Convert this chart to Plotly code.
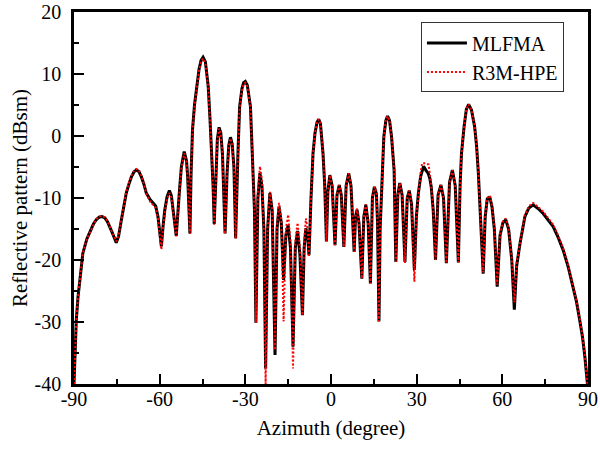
import plotly.graph_objects as go

# MLFMA (black solid)
mlfma_x = [-90, -89.6, -89.2, -88.6, -88.0, -86.9, -85.5, -84.5, -83.2, -82.2, -81.2, -80.2, -79.2, -78.3, -77.5,
           -76.5, -75.2, -74.4, -73.4, -72.5, -71.7, -70.8, -69.9, -69.0, -68.2, -67.3, -66.4, -65.5, -64.7,
           -63.3, -62.2, -61.4, -60.6, -60.2, -59.4, -58.8, -58.2, -57.4, -56.6, -55.9, -55.3, -54.2, -53.1,
           -52.4, -51.4, -50.6, -50.2, -49.8, -49.4, -49.0, -48.5, -47.8, -47.1, -46.2, -45.5, -44.8, -44.0,
           -43.0, -42.4, -41.8, -41.3, -40.9, -40.3, -39.8, -39.2, -38.6, -38.0, -37.1, -36.4, -35.8, -35.2,
           -34.6, -34.0, -33.4, -32.6, -32.0, -31.2, -30.6, -30.0, -29.3, -28.2, -27.3, -26.8, -26.3, -25.6,
           -24.9, -24.2, -23.5, -22.9, -22.2, -21.4, -20.6, -19.6, -18.9, -18.2, -17.4, -16.6, -15.8, -15.0,
           -14.2, -13.3, -12.5, -11.7, -10.9, -10.0, -9.4, -8.8, -8.2, -7.7, -7.0, -6.3, -5.6, -4.9, -4.3,
           -3.7, -2.8, -2.2, -1.6, -1.1, -0.4, 0.4, 1.4, 2.1, 2.9, 3.6, 4.5, 5.3, 6.2, 7.0, 8.1, 8.6, 9.1,
           9.8, 10.8, 11.5, 12.2, 13.0, 13.8, 14.5, 15.2, 15.9, 16.3, 16.8, 17.2, 17.7, 18.5, 19.2, 19.8,
           20.5, 21.2, 22.1, 22.7, 23.4, 24.1, 24.9, 25.9, 26.7, 27.4, 28.2, 29.2, 29.9, 30.6, 31.4, 32.4,
           33.2, 34.0, 34.6, 35.1, 35.8, 36.6, 37.5, 38.5, 39.4, 40.4, 41.5, 42.5, 43.5, 44.6, 45.2, 45.7,
           46.6, 47.4, 48.2, 49.2, 50.3, 51.0, 51.6, 52.1, 53.3, 54.0, 54.7, 55.6, 56.4, 57.2, 58.2, 59.2,
           60.2, 61.2, 62.2, 63.3, 64.2, 65.0, 66.2, 67.9, 69.3, 70.8, 72.5, 74.3, 76.0, 77.8, 79.5, 81.3,
           83.0, 84.8, 86.0, 87.1, 88.1, 88.9, 89.4, 89.8]
mlfma_y = [-40, -34, -29.7, -26, -23.2, -18.9, -16.6, -15.6, -14.2, -13.5, -13.1, -13.0, -13.2, -13.8, -14.6,
           -15.7, -17.2, -16.2, -13.5, -11.2, -9.2, -7.8, -6.6, -5.8, -5.5, -5.7, -6.6, -7.8, -9.2,
           -10.3, -10.8, -11.3, -13.0, -14.6, -17.8, -14.5, -11.9, -9.8, -8.8, -9.6, -11.9, -16.1, -9.0,
           -5.0, -2.5, -4.0, -6.5, -10.0, -15.7, -6.0, 1.0, 5.0, 8.0, 10.8, 12.2, 12.7, 12.0,
           8.0, 3.0, -2.8, -8.0, -14.2, -5.0, -0.5, 1.4, 0.5, -3.0, -15.7, -6.0, -1.5, -0.2,
           -1.3, -5.0, -16.5, -3.0, 4.7, 7.6, 8.6, 8.8, 8.2, 4.7, -5.5, -12.0, -30.1, -10.0,
           -6.0, -8.0, -15.0, -37.5, -15.0, -9.2, -12.0, -35.3, -15.0, -11.4, -14.0, -23.2, -16.0, -14.4,
           -18.0, -34.0, -18.0, -15.3, -19.0, -28.9, -18.0, -14.9, -16.0, -19.2, -10.0, -2.8, 0.5, 2.2, 2.7,
           2.0, -2.8, -8.0, -17.0, -9.0, -6.3, -8.0, -17.6, -9.5, -7.9, -9.5, -17.9, -8.0, -6.0, -8.0, -18.7, -13.0, -11.9,
           -14.0, -23.0, -13.0, -11.1, -14.0, -23.8, -10.0, -8.2, -9.3, -14.0, -29.9, -15.0, -8.2, -0.1, 2.5, 3.2,
           2.5, -0.1, -5.5, -20.3, -9.5, -7.6, -9.5, -20.3, -10.0, -8.8, -11.0, -21.6, -13.0, -9.2, -6.5, -4.9,
           -5.5, -6.0, -6.8, -8.2, -12.0, -20.0, -9.5, -7.9, -10.0, -20.5, -7.5, -5.5, -8.0, -20.4, -8.0, -2.8,
           1.5, 4.3, 5.1, 4.2, 1.5, -1.7, -6.0, -10.9, -22.2, -13.0, -10.2, -9.8, -11.5, -15.0, -24.3, -16.0,
           -14.0, -13.5, -15.0, -20.0, -28.0, -21.0, -17.3, -13.0, -11.6, -11.1, -11.7, -12.5, -13.5, -14.6, -16.3, -18.4,
           -21.0, -24.3, -26.8, -29.7, -32.5, -35.6, -38.0, -40.0]

# R3M-HPE (red dotted)
r3m_x = [-90, -89.6, -89.2, -88.6, -88.0, -86.9, -85.5, -84.5, -83.2, -82.2, -81.2, -80.2, -79.2, -78.3, -77.5,
         -76.5, -75.2, -74.4, -73.4, -72.5, -71.7, -70.8, -69.9, -69.0, -68.2, -67.3, -66.4, -65.5, -64.7,
         -63.3, -62.2, -61.4, -60.6, -60.2, -59.4, -58.8, -58.2, -57.4, -56.6, -55.9, -55.3, -54.2, -53.1,
         -52.4, -51.4, -50.6, -50.2, -49.8, -49.4, -49.0, -48.5, -47.8, -47.1, -46.2, -45.5, -44.8, -44.0,
         -43.0, -42.4, -41.8, -41.3, -40.9, -40.3, -39.8, -39.2, -38.6, -38.0, -37.1, -36.4, -35.8, -35.2,
         -34.6, -34.0, -33.4, -32.6, -32.0, -31.2, -30.6, -30.0, -29.3, -28.2, -27.3, -26.8, -26.3, -25.6,
         -24.9, -24.2, -23.5, -22.9, -22.2, -21.4, -20.6, -19.6, -18.9, -18.2, -17.4, -16.6, -15.8, -15.0,
         -14.2, -13.3, -12.5, -11.7, -10.9, -10.0, -9.4, -8.8, -8.2, -7.7, -7.0, -6.3, -5.6, -4.9, -4.3,
         -3.7, -2.8, -2.2, -1.6, -1.1, -0.4, 0.4, 1.4, 2.1, 2.9, 3.6, 4.5, 5.3, 6.2, 7.0, 8.1, 8.6, 9.1,
         9.8, 10.8, 11.5, 12.2, 13.0, 13.8, 14.5, 15.2, 15.9, 16.3, 16.8, 17.2, 17.7, 18.5, 19.2, 19.8,
         20.5, 21.2, 22.1, 22.7, 23.4, 24.1, 24.9, 25.9, 26.7, 27.4, 28.2, 29.2, 29.9, 30.6, 31.4, 31.9,
         33.2, 34.2, 34.6, 35.1, 35.8, 36.6, 37.5, 38.5, 39.4, 40.4, 41.5, 42.5, 43.5, 44.6, 45.2, 45.7,
         46.6, 47.4, 48.2, 49.2, 50.3, 51.0, 51.6, 52.1, 53.3, 54.0, 54.7, 55.6, 56.4, 57.2, 58.2, 59.2,
         60.2, 61.2, 62.2, 63.3, 64.2, 65.0, 66.2, 67.9, 69.3, 70.8, 72.5, 74.3, 76.0, 77.8, 79.5, 81.3,
         83.0, 84.8, 86.0, 87.1, 88.1, 88.9, 89.4, 89.8]
r3m_y = [-40, -34, -29.7, -26, -23.2, -18.9, -16.6, -15.6, -14.2, -13.4, -13.0, -12.9, -13.1, -13.7, -14.6,
         -15.7, -17.0, -16.0, -13.3, -11.0, -9.0, -7.6, -6.4, -5.6, -5.3, -5.5, -6.4, -7.7, -9.3,
         -10.6, -11.1, -11.6, -13.3, -15.0, -18.3, -14.8, -12.2, -10.1, -9.2, -9.9, -12.1, -16.2, -9.2,
         -5.2, -2.8, -4.2, -6.7, -10.2, -15.8, -6.2, 0.8, 4.8, 7.8, 10.6, 12.0, 12.5, 11.8,
         7.8, 2.8, -3.0, -8.2, -14.3, -5.2, -0.7, 1.2, 0.3, -3.2, -15.8, -6.2, -1.7, -0.4,
         -1.5, -5.2, -16.6, -3.2, 4.5, 7.4, 8.4, 8.6, 8.0, 4.5, -5.7, -12.2, -30.1, -9.0,
         -4.9, -7.0, -15.0, -40.0, -15.0, -9.0, -12.0, -34.5, -14.5, -10.8, -13.5, -29.9, -15.0, -12.7,
         -17.0, -37.5, -17.0, -14.0, -18.0, -28.9, -17.0, -13.3, -15.0, -19.5, -10.0, -2.8, 0.5, 2.2, 2.7,
         2.0, -2.8, -8.0, -17.0, -9.0, -6.3, -8.0, -17.6, -9.5, -7.9, -9.5, -17.9, -8.0, -6.0, -8.0, -18.7, -13.0, -11.7,
         -14.0, -23.0, -13.0, -11.0, -14.0, -23.8, -10.0, -8.2, -9.0, -14.0, -29.9, -15.0, -8.2, -0.1, 2.5, 3.2,
         2.5, -0.1, -5.5, -20.3, -9.5, -7.6, -9.5, -20.5, -10.0, -8.8, -11.0, -23.5, -13.0, -9.0, -5.8, -4.4,
         -4.4, -4.6, -6.2, -8.0, -12.0, -20.0, -9.5, -7.9, -10.0, -20.5, -7.5, -5.5, -8.0, -20.4, -8.0, -2.8,
         1.5, 4.3, 5.1, 4.2, 1.5, -1.7, -6.0, -10.9, -22.0, -12.8, -10.0, -9.6, -11.3, -14.8, -24.0, -15.8,
         -13.8, -13.3, -14.8, -19.8, -26.8, -20.5, -17.0, -12.7, -11.3, -10.8, -11.4, -12.2, -13.2, -14.3, -16.0, -18.1,
         -20.8, -24.1, -26.6, -29.5, -32.3, -35.4, -37.8, -40.0]

x_ticks = [-90, -60, -30, 0, 30, 60, 90]
y_ticks = [-40, -30, -20, -10, 0, 10, 20]

FONT = "Liberation Serif"

fig = go.Figure()
fig.add_trace(go.Scatter(x=mlfma_x, y=mlfma_y, mode="lines", name="MLFMA",
                         line=dict(color="black", width=3)))
fig.add_trace(go.Scatter(x=r3m_x, y=r3m_y, mode="lines", name="R3M-HPE",
                         line=dict(color="#ff0000", width=2, dash="2px,2px")))

axis_common = dict(showgrid=False, zeroline=False, showline=True, linecolor="black", linewidth=2.5,
                   mirror=True, ticks="inside", ticklen=10, tickwidth=2, tickcolor="black",
                   automargin=False,
                   tickfont=dict(family=FONT, size=20, color="black"))

fig.update_xaxes(range=[-90, 90], tickvals=x_ticks, ticktext=[str(v) for v in x_ticks],
                 ticklabelstandoff=-5,
                 minor=dict(ticks="inside", ticklen=5, tickwidth=2, tickcolor="black", dtick=15, tick0=-90),
                 title=dict(text="Azimuth (degree)", font=dict(family=FONT, size=21, color="black"), standoff=12),
                 **axis_common)
fig.update_yaxes(range=[-40, 20], tickvals=y_ticks, ticktext=[str(v) for v in y_ticks],
                 ticklabelstandoff=6,
                 minor=dict(ticks="inside", ticklen=5, tickwidth=2, tickcolor="black", dtick=5, tick0=-40),
                 title=dict(text="Reflective pattern (dBsm)", font=dict(family=FONT, size=21, color="black"), standoff=2),
                 **axis_common)

fig.update_layout(width=600, height=456, margin=dict(l=74, r=12, t=12, b=72),
                  paper_bgcolor="white", plot_bgcolor="white",
                  font=dict(family=FONT, size=20, color="black"),
                  legend=dict(x=0.675, y=0.972, xanchor="left", yanchor="top",
                              bgcolor="white", bordercolor="#333", borderwidth=1,
                              font=dict(family=FONT, size=20, color="black"),
                              tracegroupgap=0, itemwidth=40))

fig.write_html("out.html")
